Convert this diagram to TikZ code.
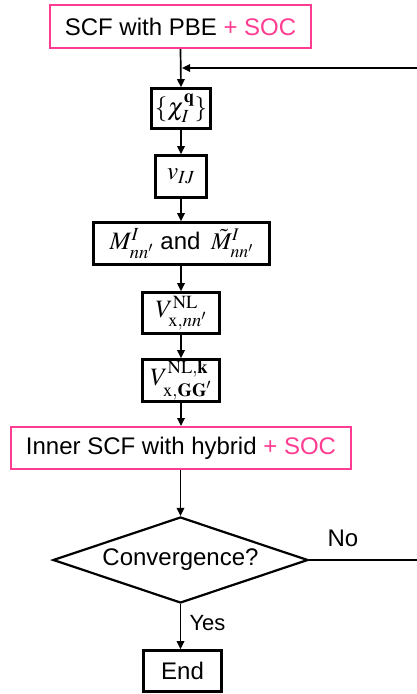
\documentclass[tikz,border=0pt]{standalone}
\usepackage[no-math]{fontspec}
\usepackage{mathptmx}
\setmainfont{Liberation Sans}
\usetikzlibrary{shapes.geometric,arrows.meta}
\definecolor{pinkc}{RGB}{255,60,145}
\begin{document}
\begin{tikzpicture}[x=1pt,y=-1pt,
  box/.style={draw,line width=2.6pt,inner sep=0pt,font=\fontsize{25}{29}\selectfont},
  pbox/.style={draw=pinkc,line width=2pt,inner sep=0pt,font=\fontsize{24}{28}\selectfont},
  decbox/.style={draw,diamond,aspect=2.92,line width=2.2pt,inner sep=0pt,font=\fontsize{24}{28}\selectfont},
  arr/.style={line width=1.7pt,-{Triangle[length=8pt,width=7.5pt]}},
  lbl/.style={font=\fontsize{24}{28}\selectfont}]
\useasboundingbox (0,0) rectangle (417,694);
\clip (0,0) rectangle (417,694);
\node[pbox,minimum width=261pt,minimum height=43pt] (top) at (180.5,26.5) {SCF with PBE \textcolor{pinkc}{+ SOC}};
\node[box,minimum width=59pt,minimum height=40pt] (chi) at (181,108.5) {$\{\chi_I^{\mathbf{q}}\}$};
\node[box,minimum width=51pt,minimum height=42pt] (v) at (181,176.5) {$v_{IJ}$};
\node[box,minimum width=176pt,minimum height=42pt] (M) at (181.5,243.5) {$M_{nn'}^{I}$ \fontsize{24}{28}\selectfont and\, $\tilde{M}_{nn'}^{I}$};
\node[box,minimum width=77pt,minimum height=41pt] (V1) at (181,313) {$V_{\mathrm{x},nn'}^{\mathrm{NL}}$};
\node[box,minimum width=77pt,minimum height=42pt] (V2) at (181,380.5) {$V_{\mathrm{x},\mathbf{GG}'}^{\mathrm{NL},\mathbf{k}}$};
\node[pbox,minimum width=340pt,minimum height=42pt] (inner) at (181,448) {Inner SCF with hybrid \textcolor{pinkc}{+ SOC}};
\node[decbox,minimum width=255pt,minimum height=86pt] (dec) at (180.5,560) {Convergence?};
\node[box,font=\fontsize{24}{28}\selectfont,minimum width=78pt,minimum height=41pt] (end) at (182.5,671) {End};
\node[lbl] (no) at (343,538) {No};
\node[lbl,font=\fontsize{22}{26}\selectfont] (yes) at (207.5,623) {Yes};
\coordinate (join) at (182,68);
\coordinate (r1) at (430,560);
\coordinate (r2) at (430,68);
\draw[arr] (top.south) -- (chi.north);
\draw[arr] (chi.south) -- (v.north);
\draw[arr] (v.south) -- (M.north -| v.south);
\draw[arr] (M.south -| V1.north) -- (V1.north);
\draw[arr] (V1.south) -- (V2.north);
\draw[arr] (V2.south) -- (inner.north -| V2.south);
\draw[arr] (inner.south -| dec.north) -- (dec.north);
\draw[arr] (dec.south) -- (end.north -| dec.south);
\draw[arr] (dec.east) -- (r1) -- (r2) -- (join);
\end{tikzpicture}
\end{document}
